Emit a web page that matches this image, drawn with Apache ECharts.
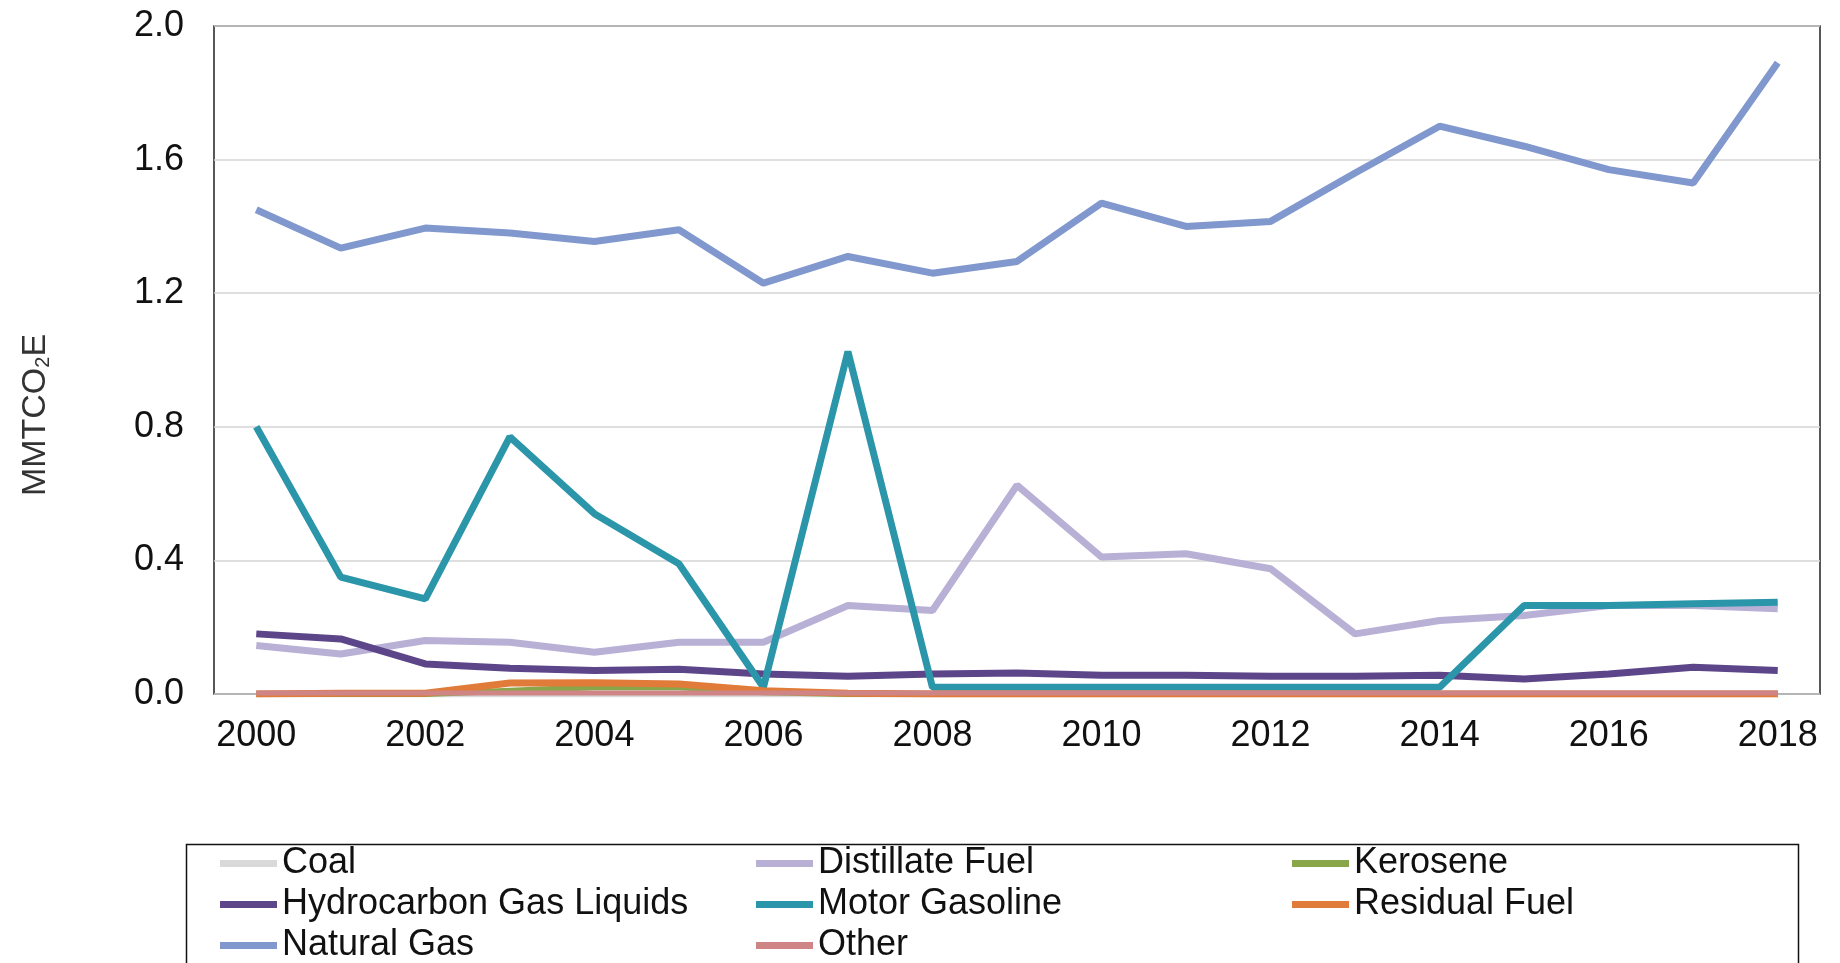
<!DOCTYPE html>
<html>
<head>
<meta charset="utf-8">
<script src="https://cdn.jsdelivr.net/npm/echarts@6/dist/echarts.min.js"></script>
<style>
  html, body { margin: 0; padding: 0; background: #fff; }
  #chart { width: 1840px; height: 963px; }
</style>
</head>
<body>
<div id="chart"></div>
<script>
const years = ['2000', '2001', '2002', '2003', '2004', '2005', '2006', '2007', '2008', '2009',
  '2010', '2011', '2012', '2013', '2014', '2015', '2016', '2017', '2018'];

const coal = [0, 0, 0, 0, 0, 0, 0, 0, 0, 0, 0, 0, 0, 0, 0, 0, 0, 0, 0];
const distillateFuel = [0.145, 0.12, 0.16, 0.155, 0.125, 0.155, 0.155, 0.265, 0.25, 0.625,
  0.41, 0.42, 0.375, 0.18, 0.22, 0.235, 0.265, 0.265, 0.255];
const kerosene = [0, 0, 0, 0.01, 0.02, 0.02, 0.005, 0, 0, 0, 0, 0, 0, 0, 0, 0, 0, 0, 0];
const hydrocarbonGasLiquids = [0.18, 0.165, 0.09, 0.077, 0.07, 0.074, 0.06, 0.053, 0.06, 0.063,
  0.056, 0.056, 0.053, 0.053, 0.056, 0.045, 0.06, 0.08, 0.07];
const motorGasoline = [0.8, 0.35, 0.285, 0.77, 0.54, 0.39, 0.02, 1.025, 0.02, 0.02,
  0.02, 0.02, 0.02, 0.02, 0.02, 0.265, 0.265, 0.27, 0.275];
const residualFuel = [0, 0.002, 0.002, 0.033, 0.034, 0.03, 0.01, 0.002, 0, 0,
  0, 0, 0, 0, 0, 0, 0, 0, 0];
const naturalGas = [1.45, 1.335, 1.395, 1.38, 1.355, 1.39, 1.23, 1.31, 1.26, 1.295,
  1.47, 1.40, 1.415, 1.56, 1.70, 1.64, 1.57, 1.53, 1.89];
const other = [0.003, 0.003, 0.003, 0.003, 0.003, 0.003, 0.003, 0.003, 0.003, 0.003,
  0.003, 0.003, 0.003, 0.003, 0.003, 0.003, 0.003, 0.003, 0.003];

const yTicks = [0, 0.4, 0.8, 1.2, 1.6, 2.0];

const font = "'Liberation Sans', Arial, sans-serif";

function line(name, data, color, width) {
  return {
    name: name,
    type: 'line',
    data: data,
    symbol: 'none',
    itemStyle: { color: color },
    lineStyle: { color: color, width: width },
    emphasis: { disabled: true }
  };
}

const myChart = echarts.init(document.getElementById('chart'));

const legendBase = {
  orient: 'vertical',
  top: 838,
  height: 200,
  icon: 'rect',
  itemWidth: 57,
  itemHeight: 7,
  itemGap: 0,
  textStyle: {
    fontFamily: font,
    fontSize: 36,
    lineHeight: 41,
    color: '#111'
  }
};

const option = {
  animation: false,
  grid: {
    left: 214,
    top: 26,
    right: 20,
    bottom: 269,
    show: true,
    borderColor: '#222',
    borderWidth: 1.5
  },
  legend: [
    Object.assign({}, legendBase, { left: 215, data: ['Coal', 'Hydrocarbon Gas Liquids', 'Natural Gas'] }),
    Object.assign({}, legendBase, { left: 751, data: ['Distillate Fuel', 'Motor Gasoline', 'Other'] }),
    Object.assign({}, legendBase, { left: 1287, data: ['Kerosene', 'Residual Fuel'] })
  ],
  graphic: [
    {
      type: 'rect',
      left: 184,
      top: 842,
      shape: { width: 1612, height: 140 },
      style: { fill: 'none', stroke: '#111', lineWidth: 1.5 },
      silent: true
    },
    {
      type: 'text',
      x: 36,
      y: 415,
      rotation: Math.PI / 2,
      style: {
        text: '{a|MMTCO}{b|2}{a|E}',
        align: 'center',
        verticalAlign: 'middle',
        fill: '#333',
        rich: {
          a: { fontFamily: font, fontSize: 34, fill: '#333' },
          b: { fontFamily: font, fontSize: 20, fill: '#333', verticalAlign: 'bottom', padding: [14, 0, 0, 0] }
        }
      }
    }
  ],
  xAxis: {
    type: 'category',
    boundaryGap: true,
    data: years,
    axisTick: { show: false },
    axisLine: { show: false },
    axisLabel: {
      interval: 1,
      margin: 24,
      fontFamily: font,
      fontSize: 36,
      color: '#111'
    }
  },
  yAxis: {
    type: 'value',
    min: yTicks[0],
    max: yTicks[yTicks.length - 1],
    interval: 0.4,
    axisLine: { show: false },
    axisTick: { show: false },
    axisLabel: {
      margin: 30,
      fontFamily: font,
      fontSize: 36,
      color: '#111',
      formatter: function (v) { return v.toFixed(1); }
    },
    splitLine: { lineStyle: { color: '#d4d4d4', width: 1.5 } }
  },
  series: [
    line('Coal', coal, '#d9d9d9', 7),
    line('Distillate Fuel', distillateFuel, '#b9b0d6', 7),
    line('Kerosene', kerosene, '#8aa64a', 6),
    line('Hydrocarbon Gas Liquids', hydrocarbonGasLiquids, '#5d4589', 7),
    line('Motor Gasoline', motorGasoline, '#2b96a9', 7),
    line('Residual Fuel', residualFuel, '#e07b39', 7),
    line('Natural Gas', naturalGas, '#8098cd', 7),
    line('Other', other, '#cf8585', 5)
  ]
};

myChart.setOption(option);
</script>
</body>
</html>
